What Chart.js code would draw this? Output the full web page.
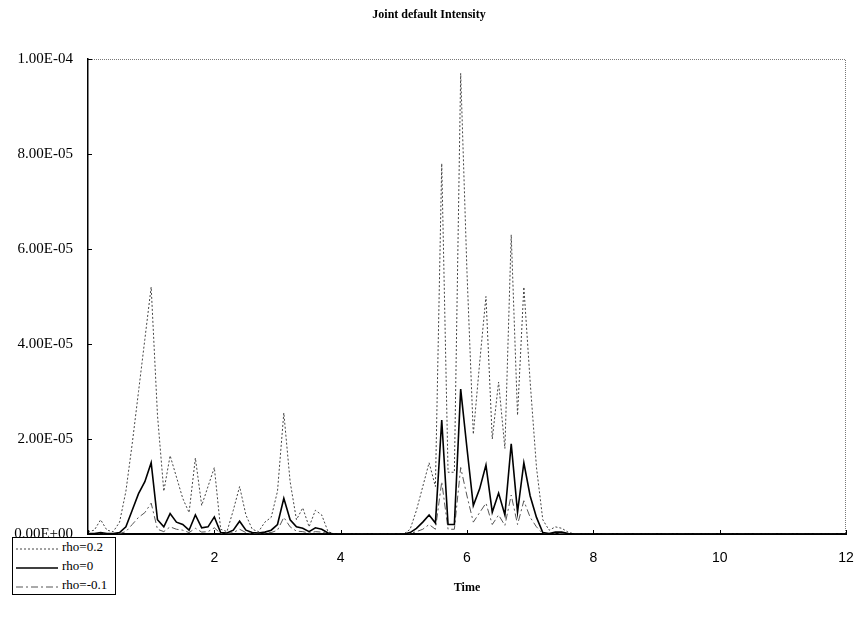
<!DOCTYPE html>
<html>
<head>
<meta charset="utf-8">
<script src="https://cdn.jsdelivr.net/npm/chart.js@4"></script>
<style>
  body { margin: 0; background: #fff; }
  #wrap { position: relative; width: 858px; height: 617px; }
  #legend {
    position: absolute; left: 12px; top: 537px; width: 102px; height: 56px;
    border: 1px solid #000; background: #fff;
    font-family: "Liberation Serif", serif; font-size: 13px; color: #000;
  }
  #legend .row { position: absolute; left: 3px; height: 14px; line-height: 14px; white-space: nowrap; }
  #legend svg { position: absolute; left: 0; top: 7px; }
  #legend span { position: absolute; left: 46px; top: -1px; }
</style>
</head>
<body>
<div id="wrap">
  <canvas id="chart" width="858" height="617"></canvas>
  <div id="legend"></div>
</div>
<script>
// time grid (years)
const times = [
  0, 0.1, 0.2, 0.3, 0.4, 0.5, 0.6, 0.7, 0.8, 0.9,
  1.0, 1.1, 1.2, 1.3, 1.4, 1.5, 1.6, 1.7, 1.8, 1.9,
  2.0, 2.1, 2.2, 2.3, 2.4, 2.5, 2.6, 2.7, 2.8, 2.9,
  3.0, 3.1, 3.2, 3.3, 3.4, 3.5, 3.6, 3.7, 3.8, 3.9,
  4.0, 4.1, 4.2, 4.3, 4.4, 4.5, 4.6, 4.7, 4.8, 4.9,
  5.0, 5.1, 5.2, 5.3, 5.4, 5.5, 5.6, 5.7, 5.8, 5.9,
  6.0, 6.1, 6.2, 6.3, 6.4, 6.5, 6.6, 6.7, 6.8, 6.9,
  7.0, 7.1, 7.2, 7.3, 7.4, 7.5, 7.6, 7.7, 7.8, 12
];

// intensities, in units of 1E-06
const rhoPos02 = [
  0.5, 0.8, 3, 0.8, 0.5, 2.5, 9, 19, 30, 41,
  52, 25, 9, 16.5, 12, 7.5, 4.5, 16, 6, 10,
  14, 1, 0.5, 5, 10, 4, 1, 0.5, 2.5, 3.5,
  9, 25.5, 11, 3, 5.5, 1.5, 5, 4, 0.5, 0,
  0, 0, 0, 0, 0, 0, 0, 0, 0, 0,
  0, 1, 5, 10, 15, 10, 78, 13, 13, 97,
  55, 21, 36, 50, 20, 32, 18, 63, 25, 52,
  32, 14, 3, 0.8, 1.5, 1.2, 0.4, 0, 0, 0
];
const rhoZero = [
  0.1, 0.1, 0.3, 0.1, 0.1, 0.3, 1.5, 5, 8.5, 11,
  15, 3, 1.5, 4.3, 2.5, 2, 0.8, 4, 1.3, 1.5,
  3.6, 0.3, 0.2, 0.8, 2.7, 0.8, 0.3, 0.2, 0.4, 0.8,
  2, 7.5, 3, 1.5, 1.2, 0.5, 1.3, 1, 0.2, 0,
  0, 0, 0, 0, 0, 0, 0, 0, 0, 0,
  0, 0.3, 1.2, 2.5, 4, 2.3, 24, 2, 2, 30.5,
  18, 6, 9.5, 14.5, 4.6, 8.6, 4, 19, 4.6, 15,
  8, 3.5, 0.3, 0.1, 0.4, 0.4, 0.1, 0, 0, 0
];
const rhoNeg01 = [
  0, 0, 0.1, 0, 0, 0.1, 0.5, 2, 3.5, 4.5,
  6.5, 1, 0.5, 1.5, 1, 0.8, 0.3, 1.2, 0.4, 0.5,
  1.3, 0.1, 0.1, 0.3, 1, 0.3, 0.1, 0.1, 0.2, 0.3,
  0.8, 3.5, 1.5, 0.6, 0.5, 0.2, 0.5, 0.4, 0.1, 0,
  0, 0, 0, 0, 0, 0, 0, 0, 0, 0,
  0, 0.1, 0.5, 1, 2, 1, 11, 1, 1, 14,
  8, 2.5, 4.5, 6.5, 2, 4, 1.8, 8.2, 2, 7,
  3.5, 1.5, 0.1, 0, 0.1, 0.1, 0, 0, 0, 0
];

const seriesNames = ['rho=0.2', 'rho=0', 'rho=-0.1'];
const yTickLabels = ['0.00E+00', '2.00E-05', '4.00E-05', '6.00E-05', '8.00E-05', '1.00E-04'];
const xTickLabels = ['', '2', '4', '6', '8', '10', '12'];

const styles = [
  { color: '#444', width: 1, dash: [2, 2] },
  { color: '#000', width: 1.6, dash: [] },
  { color: '#555', width: 1, dash: [7, 3, 2, 3] }
];

function toPoints(vals) {
  return vals.map((v, i) => ({ x: times[i], y: v }));
}

const allSeries = [rhoPos02, rhoZero, rhoNeg01];

// dotted frame on top/right + small inward tick marks
const framePlugin = {
  id: 'frame',
  afterDatasetsDraw(chart) {
    const { ctx, chartArea: a, scales } = chart;
    ctx.save();
    ctx.strokeStyle = '#777';
    ctx.lineWidth = 1;
    ctx.setLineDash([1, 1]);
    ctx.beginPath();
    ctx.moveTo(a.left, a.top + 0.5);
    ctx.lineTo(a.right - 0.5, a.top + 0.5);
    ctx.lineTo(a.right - 0.5, a.bottom);
    ctx.stroke();
    ctx.setLineDash([]);
    ctx.strokeStyle = '#000';
    ctx.beginPath();
    scales.x.ticks.forEach(t => {
      const px = Math.round(scales.x.getPixelForValue(t.value)) + 0.5;
      ctx.moveTo(px, a.bottom);
      ctx.lineTo(px, a.bottom - 4);
    });
    scales.y.ticks.forEach(t => {
      const py = Math.round(scales.y.getPixelForValue(t.value)) + 0.5;
      ctx.moveTo(a.left, py);
      ctx.lineTo(a.left + 4, py);
    });
    ctx.stroke();
    ctx.restore();
  }
};

new Chart(document.getElementById('chart'), {
  type: 'line',
  data: {
    datasets: allSeries.map((vals, i) => ({
      label: seriesNames[i],
      data: toPoints(vals),
      borderColor: styles[i].color,
      borderWidth: styles[i].width,
      borderDash: styles[i].dash,
      pointRadius: 0,
      tension: 0,
      fill: false,
      order: i === 1 ? 0 : i + 1
    }))
  },
  options: {
    responsive: false,
    animation: false,
    layout: { padding: { left: 0, right: 0, top: 0, bottom: 0 } },
    plugins: {
      legend: { display: false },
      tooltip: { enabled: false },
      title: {
        display: true,
        text: 'Joint default Intensity',
        color: '#000',
        font: { family: 'Liberation Serif', size: 12, weight: 'bold', lineHeight: 1.2 },
        padding: { top: 8, bottom: 36.6 }
      }
    },
    scales: {
      x: {
        type: 'linear',
        min: 0,
        max: 12,
        afterFit: s => { s.height = 83; s.paddingRight = 12; },
        grid: { display: false, drawTicks: false },
        border: { display: true, color: '#000', width: 2 },
        ticks: {
          stepSize: 2,
          padding: 16,
          color: '#000',
          font: { family: 'Liberation Sans', size: 14 },
          callback: (v) => xTickLabels[Math.round(v / 2)]
        },
        title: {
          display: true,
          text: 'Time',
          color: '#000',
          font: { family: 'Liberation Serif', size: 12, weight: 'bold', lineHeight: 1.2 },
          padding: { top: 0, bottom: 22 }
        }
      },
      y: {
        min: 0,
        max: 100,
        afterFit: s => { s.width = 88; },
        grid: { display: false, drawTicks: false },
        border: { display: true, color: '#000', width: 1.5 },
        ticks: {
          stepSize: 20,
          padding: 15,
          color: '#000',
          font: { family: 'Liberation Serif', size: 15 },
          callback: (v) => yTickLabels[Math.round(v / 20)]
        }
      }
    }
  },
  plugins: [framePlugin]
});

// legend box, bottom-left
const legend = document.getElementById('legend');
seriesNames.forEach((name, i) => {
  const row = document.createElement('div');
  row.className = 'row';
  row.style.top = (3 + i * 19) + 'px';
  const st = styles[i];
  row.innerHTML =
    '<svg width="42" height="2"><line x1="0" y1="1" x2="42" y2="1" stroke="' + st.color +
    '" stroke-width="' + st.width + '" stroke-dasharray="' + (st.dash.join(' ') || 'none') + '"/></svg>' +
    '<span>' + name + '</span>';
  legend.appendChild(row);
});
</script>
</body>
</html>
